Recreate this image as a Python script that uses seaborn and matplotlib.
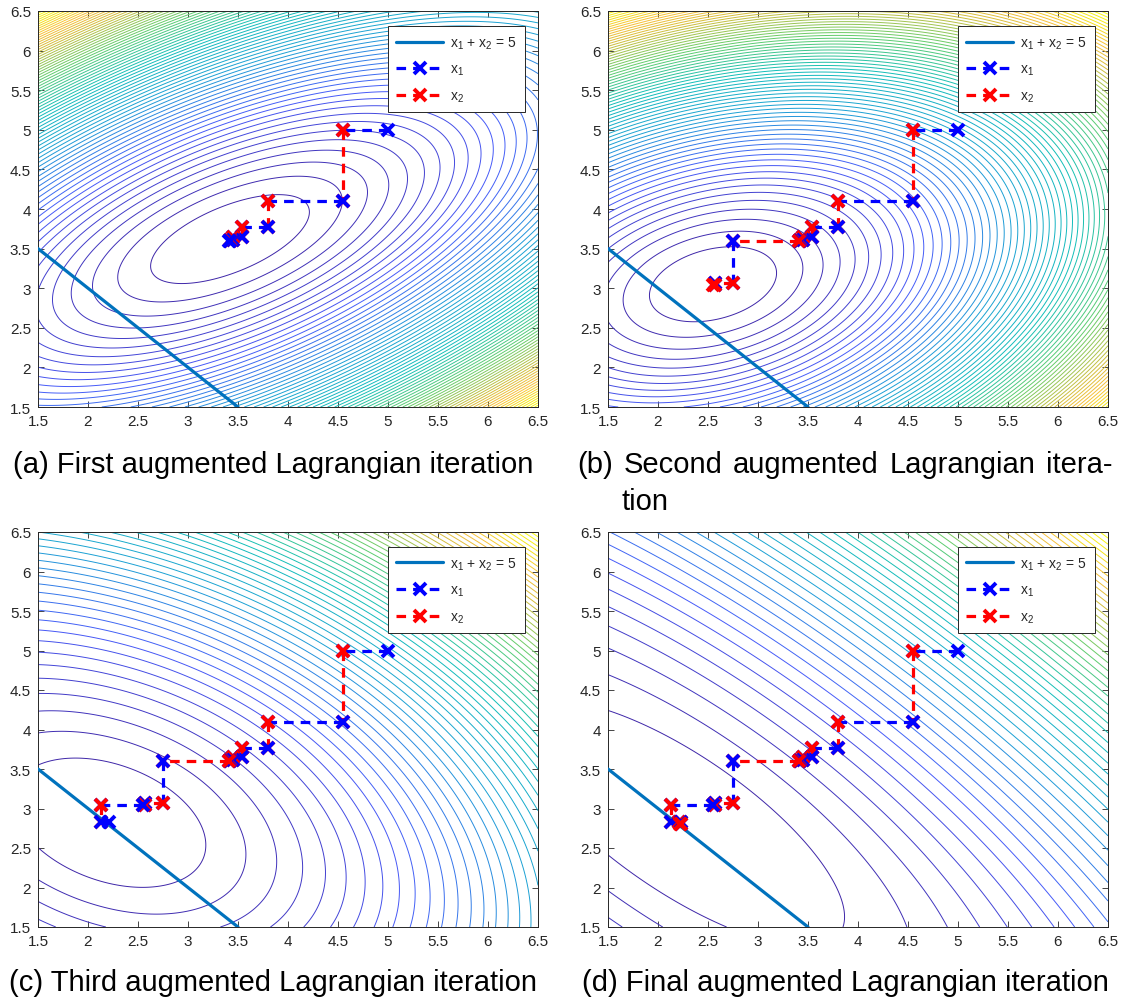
import numpy as np
import matplotlib
matplotlib.use("Agg")
import matplotlib.pyplot as plt
import seaborn as sns
from matplotlib.colors import LinearSegmentedColormap
from matplotlib.lines import Line2D

# ------------------------------
# DATA
# ------------------------------

# coordinate-wise steps of each augmented Lagrangian iteration
it1_x1 = [5.00, 4.55, 4.55, 3.80, 3.80, 3.54, 3.54, 3.45, 3.45, 3.42, 3.42, 3.41]
it1_x2 = [5.00, 5.00, 4.10, 4.10, 3.77, 3.77, 3.65, 3.65, 3.61, 3.61, 3.60, 3.60]
it2_x1 = [3.41, 2.75, 2.75, 2.57, 2.57, 2.55]
it2_x2 = [3.60, 3.60, 3.07, 3.07, 3.04, 3.04]
it3_x1 = [2.55, 2.13, 2.13, 2.21]
it3_x2 = [3.04, 3.04, 2.83, 2.83]
it4_x1 = [2.21, 2.23, 2.23, 2.22]
it4_x2 = [2.83, 2.83, 2.81, 2.81]
iters_x1 = [it1_x1, it2_x1, it3_x1, it4_x1]
iters_x2 = [it1_x2, it2_x2, it3_x2, it4_x2]

# constraint x1 + x2 = 5
con_x1 = [1.5, 3.5]
con_x2 = [3.5, 1.5]

# quadratic model of the augmented Lagrangian in each panel
centers_x1 = [3.42, 2.55, 2.21, 2.22]
centers_x2 = [3.62, 3.05, 2.82, 2.81]
hess_11 = [1.0, 1.0, 1.0, 1.0]
hess_12 = [-0.86, -0.40, 0.41, 0.80]
hess_22 = [2.0, 1.8, 1.4, 1.114]
n_levels = [74, 70, 60, 50]

ticks = [1.5, 2, 2.5, 3, 3.5, 4, 4.5, 5, 5.5, 6, 6.5]

captions = ["(a) First augmented Lagrangian iteration",
            None,
            "(c) Third augmented Lagrangian iteration",
            "(d) Final augmented Lagrangian iteration"]
caption_b = ["(b)", "Second", "augmented", "Lagrangian", "itera-"]
caption_b2 = "tion"

# ------------------------------
# STYLE
# ------------------------------

sns.set_theme(style="ticks")
plt.rcParams['font.family'] = ['Liberation Sans', 'DejaVu Sans']
plt.rcParams['mathtext.fontset'] = 'custom'
plt.rcParams['mathtext.rm'] = 'Liberation Sans'
plt.rcParams['mathtext.it'] = 'Liberation Sans'

parula = LinearSegmentedColormap.from_list("parula", [
    (0.00, (0.2422, 0.1504, 0.6603)),
    (0.14, (0.2783, 0.3556, 0.9777)),
    (0.30, (0.1098, 0.6262, 0.8355)),
    (0.46, (0.0704, 0.7457, 0.7258)),
    (0.62, (0.3780, 0.8029, 0.4229)),
    (0.78, (0.8333, 0.7406, 0.2280)),
    (0.86, (0.9705, 0.7520, 0.2239)),
    (0.94, (0.9593, 0.8906, 0.1029)),
    (1.00, (0.9769, 0.9839, 0.0805)),
])

dark = "#262626"
line_blue = "#0072BD"
dash = (0, (3.0, 2.2))

W, H = 1129, 1003
fig = plt.figure(figsize=(W / 100, H / 100), dpi=100)

# axes rectangles in pixels: left, top, right, bottom
boxes = [(38, 12, 538, 408), (608, 12, 1108, 408),
         (38, 533, 538, 928), (608, 533, 1108, 928)]

g = np.linspace(1.5, 6.5, 500)
X1, X2 = np.meshgrid(g, g)

for k, (l, t, r, b) in enumerate(boxes):
    ax = fig.add_axes([l / W, 1 - b / H, (r - l) / W, (b - t) / H])

    d1 = X1 - centers_x1[k]
    d2 = X2 - centers_x2[k]
    Z = hess_11[k] * d1 ** 2 + 2 * hess_12[k] * d1 * d2 + hess_22[k] * d2 ** 2
    levels = np.linspace(Z.min(), Z.max(), n_levels[k] + 2)[1:-1]
    ax.contour(X1, X2, Z, levels=levels, cmap=parula, linewidths=0.7, zorder=1)

    sns.lineplot(x=con_x1, y=con_x2, ax=ax, color=line_blue, lw=2.3,
                 sort=False, estimator=None, zorder=3)

    # iterate path: segments alternate blue / red, later ones drawn on top
    seg = 0
    z = 4
    for i in range(k + 1):
        px, py = iters_x1[i], iters_x2[i]
        for j in range(len(px) - 1):
            col = "#0000ff" if seg % 2 == 0 else "#ff0000"
            ax.plot(px[j:j + 2], py[j:j + 2], color=col, lw=2.3,
                    ls=dash, marker="x", ms=8, mew=2.8, zorder=z)
            seg += 1
            z += 0.01

    ax.set_xlim(1.5, 6.5)
    ax.set_ylim(1.5, 6.5)
    ax.set_xticks(ticks)
    ax.set_yticks(ticks)
    ax.set_xticklabels([f"{v:g}" for v in ticks])
    ax.set_yticklabels([f"{v:g}" for v in ticks])
    ax.tick_params(direction="in", length=4, width=0.6, colors=dark,
                   labelsize=11, top=True, right=True, pad=5)
    for s in ax.spines.values():
        s.set_color(dark)
        s.set_linewidth(0.7)

    handles = [
        Line2D([], [], color=line_blue, lw=2.3),
        Line2D([], [], color="#0000ff", lw=2.3, ls=dash,
               marker="x", ms=8, mew=2.8),
        Line2D([], [], color="#ff0000", lw=2.3, ls=dash,
               marker="x", ms=8, mew=2.8),
    ]
    labels = ["x$_1$ + x$_2$ = 5", "x$_1$", "x$_2$"]
    leg = ax.legend(handles, labels, loc="upper right",
                    bbox_to_anchor=(0.974, 0.962), borderaxespad=0,
                    fontsize=10, handlelength=3.4, handletextpad=0.5,
                    labelspacing=0.8, borderpad=0.6, fancybox=False,
                    framealpha=1, edgecolor=dark, numpoints=1)
    leg.get_frame().set_linewidth(0.7)
    leg.set_zorder(10)

# ------------------------------
# CAPTIONS
# ------------------------------

cap_kw = dict(fontsize=21, color="black", va="center")
fig.text(273 / W, 1 - 465 / H, captions[0], ha="center", **cap_kw)
fig.text(273 / W, 1 - 983 / H, captions[2], ha="center", **cap_kw)
fig.text(845 / W, 1 - 983 / H, captions[3], ha="center", **cap_kw)

# justified first line of caption (b)
words = [fig.text(577 / W, 1 - 465 / H, w, ha="left", **cap_kw) for w in caption_b]
fig.canvas.draw()
rend = fig.canvas.get_renderer()
widths = [w.get_window_extent(rend).width for w in words]
gap = ((1113 - 577) - sum(widths)) / (len(words) - 1)
x = 577
for w, wd in zip(words, widths):
    w.set_x(x / W)
    x += wd + gap
fig.text(622 / W, 1 - 502 / H, caption_b2, ha="left", **cap_kw)

fig.savefig("out.png", dpi=100)
plt.close(fig)
